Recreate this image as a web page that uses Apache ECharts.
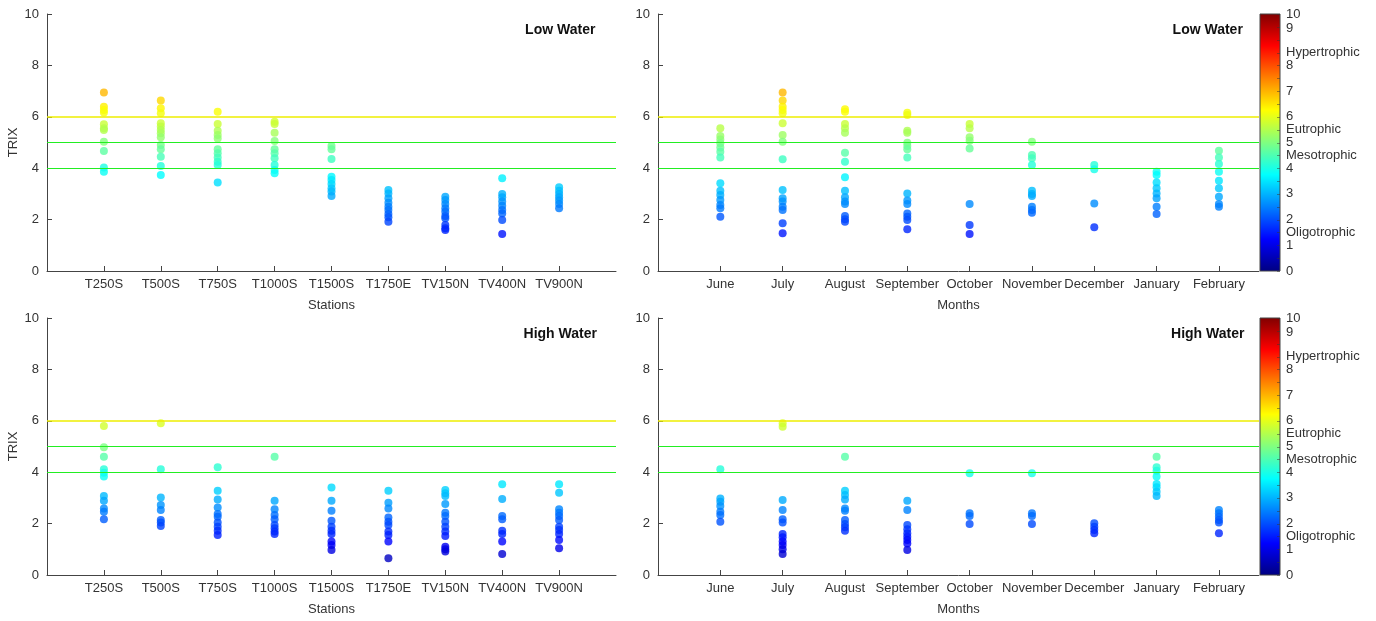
<!DOCTYPE html>
<html>
<head>
<meta charset="utf-8">
<script src="https://cdn.jsdelivr.net/npm/echarts@6/dist/echarts.min.js"></script>
<style>html,body{margin:0;padding:0;background:#fff}#c{width:1376px;height:621px}</style>
</head>
<body>
<div id="c"></div>
<script>
// ---------- data ----------
var stations = ['T250S','T500S','T750S','T1000S','T1500S','T1750E','TV150N','TV400N','TV900N'];
var months = ['June','July','August','September','October','November','December','January','February'];

// Low water, by station
var lowStations = [
  [6.95,6.39,6.26,6.17,5.71,5.55,5.49,5.03,4.67,4.03,3.86],
  [6.63,6.33,6.14,5.75,5.62,5.49,5.36,5.20,4.90,4.74,4.45,4.09,3.74],
  [6.20,5.72,5.46,5.29,5.16,4.74,4.58,4.42,4.25,4.12,3.44],
  [5.81,5.72,5.38,5.06,4.74,4.58,4.39,4.12,3.93,3.80],
  [4.86,4.74,4.36,3.67,3.54,3.39,3.22,3.09,2.92],
  [3.15,3.02,2.83,2.66,2.50,2.37,2.22,2.09,1.92],
  [2.89,2.76,2.61,2.44,2.31,2.14,2.05,1.79,1.66,1.60],
  [3.61,3.00,2.87,2.70,2.54,2.37,2.24,1.98,1.44],
  [3.26,3.12,3.00,2.87,2.74,2.61,2.44]
];
// Low water, by month
var lowMonths = [
  [5.55,5.25,5.12,4.97,4.81,4.64,4.42,3.41,3.12,2.96,2.76,2.57,2.44,2.11],
  [6.95,6.63,6.39,6.26,6.14,5.75,5.29,5.03,4.35,3.15,2.83,2.70,2.50,2.37,1.86,1.47],
  [6.29,6.20,5.72,5.55,5.38,4.60,4.25,3.65,3.12,2.87,2.70,2.61,2.14,2.01,1.92],
  [6.16,6.07,5.46,5.38,4.99,4.86,4.74,4.42,3.02,2.74,2.61,2.24,2.11,1.98,1.62],
  [5.72,5.55,5.20,5.07,4.77,2.61,1.79,1.44],
  [5.03,4.51,4.39,4.12,3.12,3.00,2.92,2.50,2.37,2.27],
  [4.12,3.96,2.63,1.70],
  [3.86,3.74,3.44,3.22,3.02,2.83,2.50,2.22],
  [4.68,4.42,4.16,3.86,3.51,3.22,2.89,2.61,2.50]
];
// High water, by station
var highStations = [
  [5.80,4.97,4.60,4.11,3.98,3.83,3.07,2.89,2.59,2.46,2.17],
  [5.90,4.11,3.02,2.72,2.53,2.14,2.04,1.91],
  [4.19,3.28,2.94,2.63,2.37,2.27,2.04,1.88,1.72,1.56],
  [4.60,2.89,2.56,2.33,2.17,1.95,1.82,1.69,1.60],
  [3.40,2.89,2.50,2.11,1.88,1.72,1.60,1.30,1.17,0.97],
  [3.28,2.81,2.59,2.24,2.07,1.95,1.69,1.56,1.30,0.65],
  [3.31,3.18,3.07,2.76,2.42,2.30,2.07,1.88,1.69,1.52,1.10,1.00,0.91],
  [3.53,2.96,2.30,2.17,1.72,1.60,1.30,0.82],
  [3.53,3.20,2.56,2.42,2.30,2.14,1.88,1.75,1.60,1.36,1.04]
];
// High water, by month
var highMonths = [
  [4.11,2.98,2.85,2.68,2.46,2.33,2.07],
  [5.90,5.77,2.92,2.53,2.17,2.04,1.60,1.47,1.30,1.17,1.00,0.82],
  [4.60,3.28,3.11,2.94,2.59,2.50,2.14,1.98,1.86,1.72],
  [2.89,2.53,1.95,1.78,1.62,1.49,1.36,1.23,0.97],
  [3.96,2.40,2.30,1.98],
  [3.96,2.40,2.30,1.98],
  [2.01,1.88,1.75,1.62],
  [4.60,4.19,4.06,3.83,3.54,3.41,3.24,3.07],
  [2.53,2.40,2.27,2.14,2.04,1.62]
];

var thresholds = [4, 5, 6];
var thresholdColors = ['#22ee22', '#22ee22', '#eeee00'];
var panelTitles = ['Low Water', 'Low Water', 'High Water', 'High Water'];
var cbLabelValues = [0, 1, 1.5, 2, 3, 4, 4.5, 5, 5.5, 6, 7, 8, 8.5, 9.45, 10];
var cbLabelTexts = ['0','1','Oligotrophic','2','3','4','Mesotrophic','5','Eutrophic','6','7','8','Hypertrophic','9','10'];

// ---------- chart ----------
var jet = ['#000080','#0000ff','#0080ff','#00ffff','#80ff80','#ffff00','#ff8000','#ff0000','#800000'];
var FONT = 'Liberation Sans';
var TXT = '#333333';
var AX = '#444444';

function toPoints(groups) {
  var out = [];
  groups.forEach(function (g, i) { g.forEach(function (v) { out.push([i + 1, v]); }); });
  return out;
}

var grids = [
  {left: 47, top: 14, width: 569, height: 257},
  {left: 658, top: 14, width: 601, height: 257},
  {left: 47, top: 318, width: 569, height: 257},
  {left: 658, top: 318, width: 601, height: 257}
];
var cats = [stations, months, stations, months];
var xMax = [10, 9.643, 10, 9.643];
var xNames = ['Stations', 'Months', 'Stations', 'Months'];
var datasets = [lowStations, lowMonths, highStations, highMonths];
var catIdx = [1,2,3,4,5,6,7,8,9];

var xAxes = [], yAxes = [], series = [];
for (var i = 0; i < 4; i++) {
  (function (i) {
    xAxes.push({
      gridIndex: i, type: 'value', min: 0, max: xMax[i],
      name: xNames[i], nameLocation: 'middle', nameGap: 28,
      nameTextStyle: {fontFamily: FONT, fontSize: 13, color: TXT},
      axisLine: {show: true, onZero: false, lineStyle: {color: AX, width: 1}},
      axisTick: {show: true, inside: true, length: 5, customValues: catIdx, lineStyle: {color: AX}},
      axisLabel: {customValues: catIdx, fontFamily: FONT, fontSize: 13, color: TXT, margin: 7,
        formatter: function (v) { return cats[i][Math.round(v) - 1] || ''; }},
      splitLine: {show: false}
    });
    yAxes.push({
      gridIndex: i, type: 'value', min: 0, max: 10, interval: 2,
      name: (i % 2 === 0) ? 'TRIX' : '', nameLocation: 'middle', nameGap: 27,
      nameTextStyle: {fontFamily: FONT, fontSize: 13, color: TXT},
      axisLine: {show: true, lineStyle: {color: AX, width: 1}},
      axisTick: {show: true, inside: true, length: 5, lineStyle: {color: AX}},
      axisLabel: {fontFamily: FONT, fontSize: 13, color: TXT, margin: 8},
      splitLine: {show: false}
    });
    series.push({
      type: 'scatter', xAxisIndex: i, yAxisIndex: i,
      data: toPoints(datasets[i]), symbolSize: 8, z: 3,
      markLine: {
        silent: true, symbol: ['none', 'none'], label: {show: false}, animation: false,
        data: thresholds.map(function (t, k) {
          return {yAxis: t, lineStyle: {color: thresholdColors[k], width: k === 2 ? 1.6 : 1.2, type: 'solid', opacity: 1}};
        })
      }
    });
  })(i);
}

var chart = echarts.init(document.getElementById('c'), null, {renderer: 'canvas'});
chart.setOption({
  animation: false,
  backgroundColor: '#ffffff',
  grid: grids,
  xAxis: xAxes,
  yAxis: yAxes,
  visualMap: {
    type: 'continuous', show: false, min: 0, max: 10, dimension: 1,
    seriesIndex: [0, 1, 2, 3], inRange: {color: jet}
  },
  series: series
});

// titles and colorbars placed via the axes' scales
var graphics = [];
var titleX = [9.02, 8.82, 9.02, 8.82];
for (var p = 0; p < 4; p++) {
  var pt = chart.convertToPixel({gridIndex: p}, [titleX[p], 9.38]);
  graphics.push({type: 'text', x: pt[0], y: pt[1], style: {
    text: panelTitles[p], fontFamily: FONT, fontSize: 14, fontWeight: 'bold', fill: '#111',
    align: 'center', verticalAlign: 'middle'}});
}
[1, 3].forEach(function (p) {
  var top = chart.convertToPixel({yAxisIndex: p}, 10);
  var bot = chart.convertToPixel({yAxisIndex: p}, 0);
  var x0 = 1260, w = 20;
  var stops = jet.map(function (c, k) { return {offset: 1 - k / (jet.length - 1), color: c}; }).reverse();
  graphics.push({type: 'rect', shape: {x: x0, y: top, width: w, height: bot - top},
    style: {fill: new echarts.graphic.LinearGradient(0, 0, 0, 1, stops), stroke: AX, lineWidth: 1}});
  for (var v = 0; v <= 10; v += 0.5) {
    var yy = Math.round(chart.convertToPixel({yAxisIndex: p}, v)) + 0.5;
    graphics.push({type: 'line', shape: {x1: x0 + w - 3, y1: yy, x2: x0 + w, y2: yy}, style: {stroke: '#333', lineWidth: 1, opacity: 0.5}});
  }
  cbLabelValues.forEach(function (v, k) {
    var yy = chart.convertToPixel({yAxisIndex: p}, v);
    graphics.push({type: 'text', x: x0 + w + 6, y: yy, style: {
      text: cbLabelTexts[k], fontFamily: FONT, fontSize: 13, fill: TXT,
      align: 'left', verticalAlign: 'middle'}});
  });
});
chart.setOption({graphic: graphics});
</script>
</body>
</html>
